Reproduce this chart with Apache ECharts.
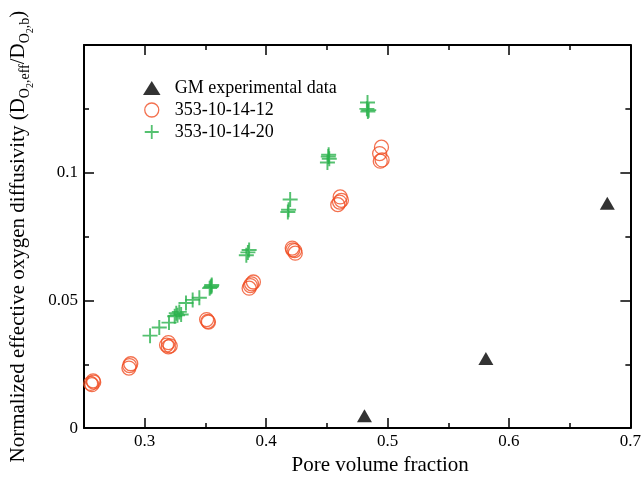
<!DOCTYPE html>
<html>
<head>
<meta charset="utf-8">
<script src="https://cdn.jsdelivr.net/npm/echarts@6/dist/echarts.min.js"></script>
<style>html,body{margin:0;padding:0;background:#fff}#c{width:644px;height:481px}</style>
</head>
<body>
<div id="c"></div>
<script>
// Series names
const seriesNames = ['GM experimental data', '353-10-14-12', '353-10-14-20'];
// GM experimental data [pore volume fraction, normalized diffusivity]
const gmData = [[0.481, 0.0048], [0.581, 0.0273], [0.681, 0.0880]];
// 353-10-14-12 (circles)
const s12Data = [
  [0.2555, 0.0175], [0.2575, 0.0185], [0.2565, 0.0170], [0.2580, 0.0180],
  [0.2870, 0.0235], [0.2885, 0.0252], [0.2875, 0.0245],
  [0.3180, 0.0325], [0.3195, 0.0318], [0.3210, 0.0322], [0.3195, 0.0335],
  [0.3510, 0.0425], [0.3520, 0.0418], [0.3525, 0.0415],
  [0.3860, 0.0548], [0.3880, 0.0565], [0.3895, 0.0572], [0.3870, 0.0558],
  [0.4215, 0.0705], [0.4235, 0.0695], [0.4240, 0.0685], [0.4220, 0.0698],
  [0.4590, 0.0875], [0.4610, 0.0905], [0.4605, 0.0885], [0.4620, 0.0892],
  [0.4950, 0.1100], [0.4935, 0.1075], [0.4955, 0.1050], [0.4940, 0.1045]
];
// 353-10-14-20 (pluses)
const s20Data = [
  [0.3044, 0.0362], [0.3120, 0.0394], [0.3200, 0.0413], [0.3247, 0.0438],
  [0.3260, 0.0450], [0.3285, 0.0455], [0.3300, 0.0445], [0.3270, 0.0442],
  [0.3340, 0.0490], [0.3395, 0.0502], [0.3450, 0.0510],
  [0.3543, 0.0552], [0.3552, 0.0560], [0.3535, 0.0548], [0.3550, 0.0555],
  [0.3860, 0.0697], [0.3837, 0.0677], [0.3850, 0.0688],
  [0.4198, 0.0895], [0.4179, 0.0846], [0.4185, 0.0855],
  [0.4515, 0.1070], [0.4520, 0.1055], [0.4505, 0.1040], [0.4512, 0.1063],
  [0.4835, 0.1275], [0.4830, 0.1250], [0.4845, 0.1245], [0.4838, 0.1240]
];
// Axis tick values
const xMajorTicks = [0.3, 0.4, 0.5, 0.6, 0.7];
const xMinorTicks = [0.35, 0.45, 0.55, 0.65];

const FONT = "'Liberation Serif', 'Times New Roman', serif";
const RED = '#f04e23';
const GREEN = '#2bb24c';
const PLUS = 'path://M4.35,0H5.65V4.35H10V5.65H5.65V10H4.35V5.65H0V4.35H4.35Z';
const TRI = 'path://M0,12L7.5,0L15,12Z';

const chart = echarts.init(document.getElementById('c'), null, {renderer: 'canvas'});

const xBase = {type: 'value', min: 0.25, max: 0.7, gridIndex: 0, splitLine: {show: false}};
const lineStyle = {color: '#000', width: 2};
const tickLine = {color: '#000', width: 1.5};

chart.setOption({
  backgroundColor: '#fff',
  animation: false,
  grid: {left: 80, right: 12, top: 45, bottom: 50, containLabel: false},
  legend: {
    orient: 'vertical', left: 138, top: 74, itemWidth: 36, itemHeight: 14, itemGap: 4,
    textStyle: {fontFamily: FONT, fontSize: 18, color: '#000'},
    data: [
      {name: seriesNames[0], icon: TRI, itemStyle: {color: '#000'}},
      {name: seriesNames[1], itemStyle: {color: 'rgba(0,0,0,0)', borderColor: RED, borderWidth: 1.3}},
      {name: seriesNames[2]}
    ]
  },
  xAxis: [
    Object.assign({}, xBase, {
      position: 'bottom',
      axisLine: {show: true, lineStyle: lineStyle},
      axisTick: {show: true, inside: true, length: 10, customValues: xMajorTicks, lineStyle: tickLine},
      axisLabel: {show: true, customValues: xMajorTicks, margin: 5, fontFamily: FONT, fontSize: 17, color: '#000'},
      name: 'Pore volume fraction', nameLocation: 'middle', nameGap: 25,
      nameTextStyle: {fontFamily: FONT, fontSize: 21, color: '#000', padding: [0, 0, 0, 46]}
    }),
    Object.assign({}, xBase, {
      position: 'bottom',
      axisLine: {show: false},
      axisTick: {show: true, inside: true, length: 5, customValues: xMinorTicks, lineStyle: tickLine},
      axisLabel: {show: false}
    }),
    Object.assign({}, xBase, {
      position: 'top',
      axisLine: {show: true, lineStyle: lineStyle},
      axisTick: {show: true, inside: true, length: 10, customValues: xMajorTicks, lineStyle: tickLine},
      axisLabel: {show: false}
    }),
    Object.assign({}, xBase, {
      position: 'top',
      axisLine: {show: false},
      axisTick: {show: true, inside: true, length: 5, customValues: xMinorTicks, lineStyle: tickLine},
      axisLabel: {show: false}
    })
  ],
  yAxis: [
    {
      type: 'value', min: 0, max: 0.15, interval: 0.05, position: 'left',
      splitLine: {show: false},
      axisLine: {show: true, lineStyle: lineStyle},
      axisTick: {show: true, inside: true, length: 10, lineStyle: tickLine},
      minorTick: {show: true, splitNumber: 2, length: 5, lineStyle: tickLine},
      axisLabel: {
        margin: 6, fontFamily: FONT, fontSize: 17, color: '#000',
        formatter: function (v) { return v > 0.14 ? '' : String(+v.toFixed(3)); }
      },
      name: '{n|Normalized effective oxygen diffusivity (D}{s|O}{ss|2}{s|,eff}{n|/D}{s|O}{ss|2}{s|,b}{n|)}',
      nameLocation: 'middle', nameGap: 53, nameRotate: 90,
      nameTextStyle: {
        fontFamily: FONT, fontSize: 21, color: '#000',
        rich: {
          n: {fontFamily: FONT, fontSize: 21, lineHeight: 23, verticalAlign: 'top', color: '#000'},
          s: {fontFamily: FONT, fontSize: 14, lineHeight: 14, padding: [10, 0, 0, 0], verticalAlign: 'top', color: '#000'},
          ss: {fontFamily: FONT, fontSize: 10, lineHeight: 10, padding: [17, 0, 0, 0], verticalAlign: 'top', color: '#000'}
        }
      }
    },
    {
      type: 'value', min: 0, max: 0.15, interval: 0.05, position: 'right',
      splitLine: {show: false},
      axisLine: {show: true, lineStyle: lineStyle},
      axisTick: {show: true, inside: true, length: 10, lineStyle: tickLine},
      minorTick: {show: true, splitNumber: 2, length: 5, lineStyle: tickLine},
      axisLabel: {show: false}
    }
  ],
  series: [
    {
      name: seriesNames[0], type: 'scatter', xAxisIndex: 0, yAxisIndex: 0,
      symbol: 'triangle', symbolSize: [15, 13],
      itemStyle: {color: '#000'},
      data: gmData, z: 3
    },
    {
      name: seriesNames[1], type: 'scatter', xAxisIndex: 0, yAxisIndex: 0,
      symbol: 'circle', symbolSize: 14,
      itemStyle: {color: 'rgba(0,0,0,0)', borderColor: RED, borderWidth: 1.3},
      data: s12Data, z: 2
    },
    {
      name: seriesNames[2], type: 'scatter', xAxisIndex: 0, yAxisIndex: 0,
      symbol: PLUS, symbolSize: 15,
      itemStyle: {color: GREEN},
      data: s20Data, z: 2
    }
  ]
});
</script>
</body>
</html>
